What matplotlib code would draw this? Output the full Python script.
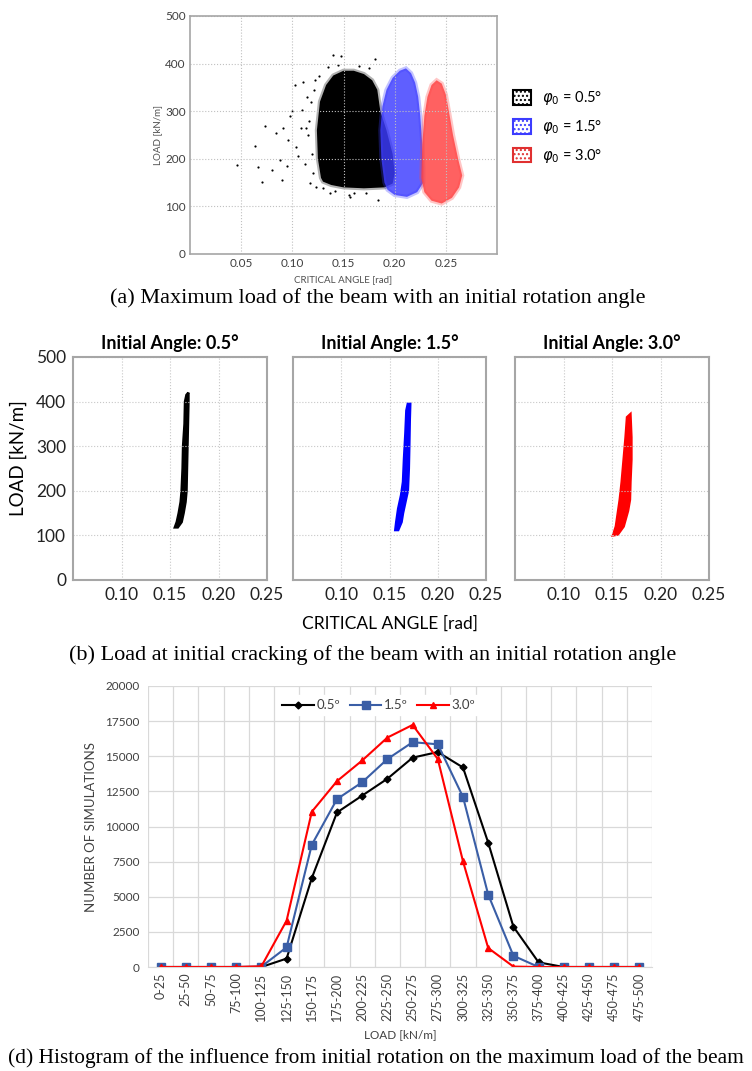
import matplotlib
matplotlib.use('Agg')
from matplotlib import pyplot as plt
from matplotlib.patches import Patch

plt.rcParams['font.family'] = ['Lato', 'DejaVu Sans']

# ---- (a) maximum load clouds: outlines (angle [rad], load [kN/m])
a05_angle = [0.128, 0.125, 0.124, 0.127, 0.133, 0.140, 0.150, 0.160, 0.170, 0.178, 0.183,
             0.186, 0.192, 0.198, 0.200, 0.198, 0.190, 0.170, 0.150, 0.138, 0.130]
a05_load = [160, 200, 260, 320, 355, 375, 385, 385, 378, 365, 345,
            300, 260, 210, 170, 148, 140, 138, 140, 145, 152]
# sparse points around the black cloud
a05_out_angle = [0.0463, 0.0636, 0.0734, 0.0668, 0.0701, 0.0841, 0.0913, 0.0799, 0.088, 0.0978,
                 0.1027, 0.0946, 0.1109, 0.140, 0.148, 0.181, 0.1565, 0.184, 0.137, 0.106,
                 0.096, 0.109, 0.090, 0.115, 0.118, 0.112, 0.120, 0.104, 0.100, 0.121,
                 0.116, 0.119, 0.113, 0.122, 0.117, 0.135, 0.145, 0.165, 0.175, 0.160,
                 0.130, 0.126, 0.142, 0.172, 0.155, 0.108, 0.114, 0.123]
a05_out_load = [186, 227, 268, 183, 152, 254, 265, 177, 198, 289,
                355, 184, 362, 418, 415, 409, 120, 114, 128, 205,
                240, 303, 156, 250, 320, 190, 170, 225, 300, 345,
                280, 210, 265, 365, 150, 392, 398, 395, 390, 128,
                138, 375, 132, 128, 125, 265, 330, 140]

a15_angle = [0.190, 0.187, 0.186, 0.188, 0.192, 0.198, 0.205, 0.211, 0.216, 0.220,
             0.223, 0.225, 0.227, 0.228, 0.228, 0.222, 0.212, 0.200, 0.193]
a15_load = [150, 200, 260, 310, 345, 370, 385, 390, 380, 360,
            330, 290, 230, 180, 150, 130, 120, 124, 135]

a30_angle = [0.226, 0.227, 0.229, 0.232, 0.236, 0.241, 0.246, 0.250, 0.253, 0.257,
             0.262, 0.266, 0.263, 0.256, 0.246, 0.236, 0.229]
a30_load = [160, 230, 290, 330, 355, 365, 358, 335, 300, 250,
            200, 165, 140, 118, 106, 112, 130]

# ---- (b) initial cracking load stripes (angle [rad], load [kN/m])
b05_angle = [0.155, 0.157, 0.159, 0.161, 0.162, 0.163, 0.1635, 0.165, 0.1655, 0.167,
             0.169, 0.169, 0.1685, 0.168, 0.1675, 0.167, 0.166, 0.164, 0.162, 0.158]
b05_load = [118, 130, 150, 175, 200, 250, 300, 350, 400, 415,
            420, 400, 350, 300, 250, 200, 175, 150, 130, 118]

b15_angle = [0.156, 0.157, 0.159, 0.162, 0.164, 0.165, 0.1665, 0.1675, 0.169,
             0.1715, 0.171, 0.1705, 0.170, 0.169, 0.166, 0.164, 0.1625, 0.159]
b15_load = [112, 130, 160, 190, 220, 270, 330, 380, 395,
            395, 360, 300, 250, 200, 170, 150, 130, 112]

b30_angle = [0.151, 0.154, 0.156, 0.158, 0.160, 0.162, 0.164, 0.1655,
             0.169, 0.170, 0.170, 0.169, 0.1685, 0.1665, 0.162, 0.156]
b30_load = [100, 120, 150, 180, 220, 270, 320, 365,
            372, 320, 270, 220, 180, 155, 120, 102]

# ---- (d) histogram
bins = ['0-25', '25-50', '50-75', '75-100', '100-125', '125-150', '150-175', '175-200',
        '200-225', '225-250', '250-275', '275-300', '300-325', '325-350', '350-375',
        '375-400', '400-425', '425-450', '450-475', '475-500']
n05 = [0, 0, 0, 0, 0, 600, 6330, 11000, 12200, 13400, 14900, 15300, 14200, 8850, 2870, 330, 0, 0, 0, 0]
n15 = [0, 0, 0, 0, 30, 1400, 8700, 11950, 13150, 14800, 16000, 15850, 12100, 5150, 800, 0, 0, 0, 0, 0]
n30 = [0, 0, 0, 0, 50, 3300, 11050, 13230, 14700, 16330, 17230, 14800, 7520, 1350, 30, 0, 0, 0, 0, 0]

W, H = 752, 1071
fig = plt.figure(figsize=(W/100, H/100), dpi=100)

def box(x0, y0, x1, y1):
    # pixel box (top-left origin) -> figure fraction
    return [x0/W, 1-y1/H, (x1-x0)/W, (y1-y0)/H]

frame = '#a6a6a6'
serif = ['Liberation Serif', 'DejaVu Serif']

# ================= (a)
ax = fig.add_axes(box(190, 16, 497, 254))
ax.fill(a05_angle, a05_load, fc='none', ec='black', lw=3, alpha=0.3)
ax.fill(a05_angle, a05_load, fc='black', ec='none')
ax.scatter(a05_out_angle, a05_out_load, s=2.5, c='black', lw=0)
ax.fill(a15_angle, a15_load, fc='none', ec='#3c3cff', lw=3, alpha=0.3)
ax.fill(a15_angle, a15_load, fc='#3c3cff', ec='none', alpha=0.82)
ax.fill(a30_angle, a30_load, fc='none', ec='#ff4545', lw=3, alpha=0.3)
ax.fill(a30_angle, a30_load, fc='#ff4545', ec='none', alpha=0.85)
ax.set_xlim(0, 0.30)
ax.set_ylim(0, 500)
ax.set_xticks([0.05, 0.10, 0.15, 0.20, 0.25])
ax.set_xticklabels(['0.05', '0.10', '0.15', '0.20', '0.25'])
ax.set_yticks([0, 100, 200, 300, 400, 500])
ax.tick_params(length=0, labelsize=8.5, labelcolor='#404040', pad=3)
ax.grid(True, ls=':', color='#c0c0c0', lw=0.8)
for s in ax.spines.values():
    s.set_color(frame)
    s.set_linewidth(1.2)
ax.set_xlabel('CRITICAL ANGLE [rad]', fontsize=7, color='#505050', labelpad=4)
ax.set_ylabel('LOAD [kN/m]', fontsize=7, color='#505050', labelpad=2)

handles = [Patch(fc='white', ec='black', hatch='....', lw=1.5),
           Patch(fc='white', ec='#3c3cff', hatch='....', lw=1.5),
           Patch(fc='white', ec='#e03030', hatch='....', lw=1.5)]
fig.legend(handles, [r'$\varphi_0$ = 0.5°', r'$\varphi_0$ = 1.5°', r'$\varphi_0$ = 3.0°'],
           loc='center left', bbox_to_anchor=(500/W, 1-127/H), frameon=False,
           handlelength=1.2, handleheight=1.2, labelspacing=0.75, fontsize=10.5)

fig.text(378/W, 1-298/H, '(a) Maximum load of the beam with an initial rotation angle',
         ha='center', va='center', fontsize=16, family=serif)

# ================= (b)
panels = [(73, 267, b05_angle, b05_load, 'black', '0.5°'),
          (293, 486, b15_angle, b15_load, '#0000ff', '1.5°'),
          (515, 709, b30_angle, b30_load, '#ff0000', '3.0°')]
for i, (x0, x1, xs, ys, c, lab) in enumerate(panels):
    ax = fig.add_axes(box(x0, 357, x1, 580))
    ax.fill(xs, ys, fc=c, ec=c, lw=1.8)
    ax.set_xlim(0.05, 0.25)
    ax.set_ylim(0, 500)
    ax.set_xticks([0.10, 0.15, 0.20, 0.25])
    ax.set_xticklabels(['0.10', '0.15', '0.20', '0.25'])
    ax.set_yticks([0, 100, 200, 300, 400, 500])
    if i > 0:
        ax.set_yticklabels([])
    ax.tick_params(length=0, labelsize=12.5, labelcolor='#222222', pad=5)
    ax.grid(True, ls=':', color='#c8c8c8', lw=0.8)
    for s in ax.spines.values():
        s.set_color(frame)
        s.set_linewidth(1.5)
    ax.set_title('Initial Angle: ' + lab, fontsize=13, fontweight='bold', pad=6)

fig.text(390/W, 1-624/H, 'CRITICAL ANGLE [rad]', ha='center', va='center', fontsize=12.5)
fig.text(18/W, 1-458/H, 'LOAD [kN/m]', ha='center', va='center', rotation=90, fontsize=13.5)
fig.text(373/W, 1-655/H, '(b) Load at initial cracking of the beam with an initial rotation angle',
         ha='center', va='center', fontsize=16, family=serif)

# ================= (d)
ax = fig.add_axes(box(148, 686, 652, 967))
x = list(range(len(bins)))
ax.plot(x, n05, color='black', marker='D', ms=3.5, lw=1.5, label='0.5º')
ax.plot(x, n15, color='#3a5ea6', marker='s', ms=5.5, lw=1.5, label='1.5º')
ax.plot(x, n30, color='#ff0000', marker='^', ms=5, lw=1.5, label='3.0º')
ax.set_xlim(-0.5, len(bins)-0.5)
ax.set_ylim(0, 20000)
ax.set_xticks(x)
ax.set_xticklabels(bins, rotation=90, fontsize=9)
ax.set_xticks([i-0.5 for i in range(len(bins)+1)], minor=True)
ax.set_yticks(range(0, 20001, 2500))
ax.grid(True, which='minor', axis='x', color='#d9d9d9', lw=0.9)
ax.grid(True, which='major', axis='y', color='#d9d9d9', lw=0.9)
ax.set_axisbelow(True)
ax.tick_params(which='both', length=0, labelcolor='#404040')
ax.tick_params(axis='y', labelsize=8.5, pad=6)
ax.tick_params(axis='x', pad=4)
for k in ['left', 'right', 'top']:
    ax.spines[k].set_visible(False)
ax.spines['bottom'].set_color('#d9d9d9')
ax.set_xlabel('LOAD [kN/m]', fontsize=8.5, color='#404040', labelpad=6)
ax.set_ylabel('NUMBER OF SIMULATIONS', fontsize=9.5, color='#404040', labelpad=6)
leg = ax.legend(loc='upper center', bbox_to_anchor=(0.458, 0.99), ncol=3, fontsize=9.5,
                frameon=True, fancybox=False, edgecolor='white', framealpha=1,
                handlelength=2.4, handletextpad=0.2, columnspacing=0.7, borderpad=0.3)
for t in leg.get_texts():
    t.set_color('#404040')

fig.text(376/W, 1-1058/H,
         '(d) Histogram of the influence from initial rotation on the maximum load of the beam',
         ha='center', va='center', fontsize=15.4, family=serif)

fig.savefig('out.png', dpi=100)
